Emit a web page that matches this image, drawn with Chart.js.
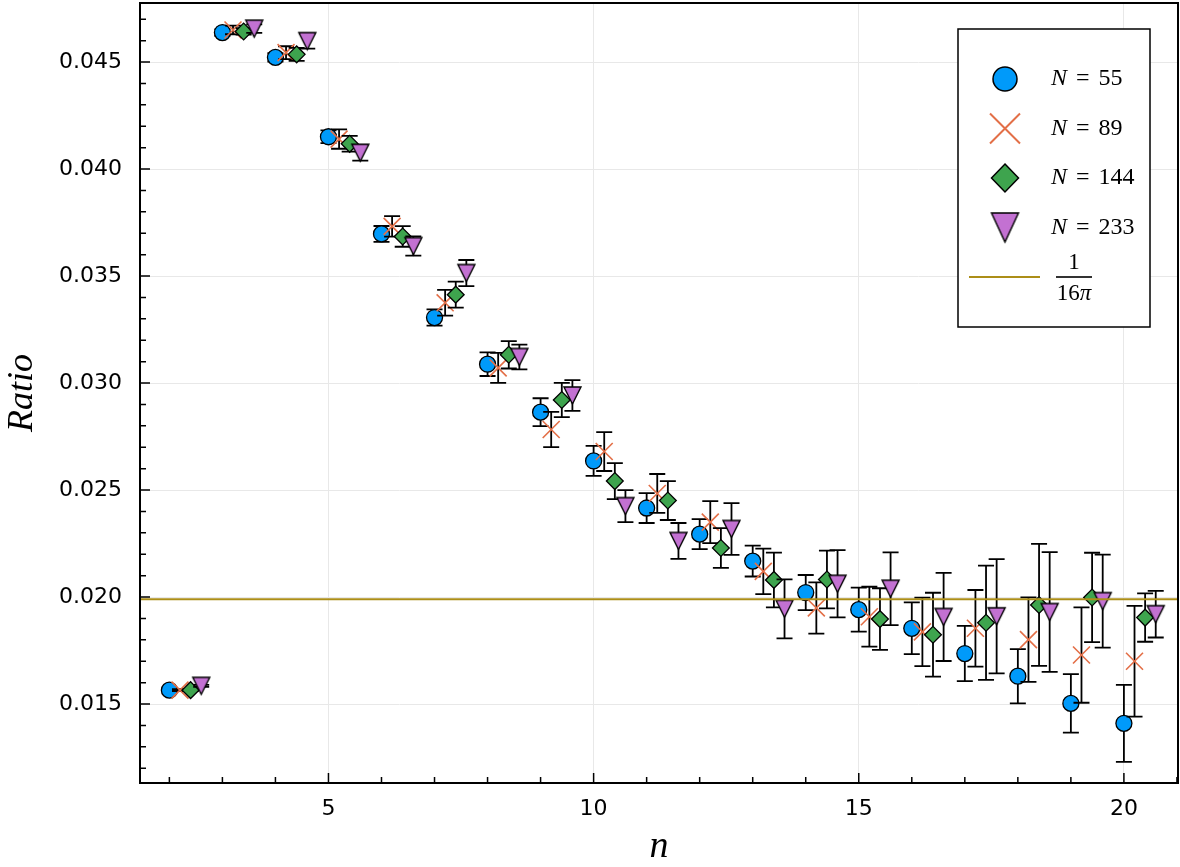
<!DOCTYPE html>
<html>
<head>
<meta charset="utf-8">
<script src="https://cdn.jsdelivr.net/npm/chart.js@4.4.0/dist/chart.umd.min.js"></script>
<style>
  html, body { margin: 0; padding: 0; background: #fff; overflow: hidden; }
  #ratioChart { display: block; }
</style>
</head>
<body>
<canvas id="ratioChart" width="1180" height="867"></canvas>
<script>
// n on the horizontal axis, one group of four points per n
const nValues = [2, 3, 4, 5, 6, 7, 8, 9, 10, 11, 12, 13, 14, 15, 16, 17, 18, 19, 20];
const sizeLabels = ['55', '89', '144', '233'];
const xShift = [0, 0.2, 0.4, 0.6];

// ratio and its error for each N
const ratio55 = [0.01565, 0.04638, 0.04522, 0.04151, 0.03697, 0.03306, 0.03088, 0.02864, 0.02636, 0.02416,
                 0.02294, 0.02168, 0.02021, 0.01941, 0.01854, 0.01736, 0.01630, 0.01503, 0.01410];
const err55 = [0.00004, 0.00015, 0.00020, 0.00030, 0.00037, 0.00038, 0.00055, 0.00065, 0.00070, 0.00070,
               0.00070, 0.00072, 0.00082, 0.00103, 0.00121, 0.00129, 0.00127, 0.00137, 0.00180];

const ratio89 = [0.01565, 0.04650, 0.04544, 0.04140, 0.03732, 0.03375, 0.03071, 0.02783, 0.02680, 0.02484,
                 0.02350, 0.02120, 0.01949, 0.01908, 0.01837, 0.01854, 0.01801, 0.01729, 0.01700];
const err89 = [0.00004, 0.00020, 0.00030, 0.00045, 0.00048, 0.00060, 0.00070, 0.00082, 0.00091, 0.00091,
               0.00098, 0.00106, 0.00120, 0.00140, 0.00160, 0.00179, 0.00197, 0.00223, 0.00259];

const ratio144 = [0.01565, 0.04643, 0.04536, 0.04118, 0.03685, 0.03413, 0.03132, 0.02921, 0.02542, 0.02451,
                  0.02229, 0.02080, 0.02082, 0.01897, 0.01824, 0.01880, 0.01963, 0.01998, 0.01904];
const err144 = [0.00004, 0.00015, 0.00030, 0.00037, 0.00048, 0.00061, 0.00064, 0.00080, 0.00084, 0.00091,
                0.00093, 0.00128, 0.00135, 0.00144, 0.00196, 0.00267, 0.00285, 0.00209, 0.00113];

const ratio233 = [0.01585, 0.04656, 0.04598, 0.04076, 0.03640, 0.03514, 0.03122, 0.02942, 0.02425, 0.02262,
                  0.02318, 0.01945, 0.02062, 0.02039, 0.01907, 0.01910, 0.01930, 0.01981, 0.01920];
const err233 = [0.00005, 0.00020, 0.00035, 0.00037, 0.00045, 0.00061, 0.00058, 0.00072, 0.00075, 0.00084,
                0.00121, 0.00138, 0.00157, 0.00170, 0.00206, 0.00267, 0.00280, 0.00217, 0.00109];

const xTicks = [5, 10, 15, 20];
const yTicks = [0.015, 0.020, 0.025, 0.030, 0.035, 0.040, 0.045];
const xRange = [1.446, 21.02];
const yRange = [0.01131, 0.04776];
const inverse16Pi = 1 / (16 * Math.PI);

const colors = ['#009AFA', '#E36F47', '#3EA44E', '#C371D2'];
const lineColor = '#AC8E18';

// downward triangle marker, drawn once into a small canvas
function downTriangle(w, h, fill) {
    const pad = 2;
    const c = document.createElement('canvas');
    c.width = w + 2 * pad;
    c.height = h + 2 * pad;
    const g = c.getContext('2d');
    g.beginPath();
    g.moveTo(pad, pad);
    g.lineTo(pad + w, pad);
    g.lineTo(pad + w / 2, pad + h);
    g.closePath();
    g.fillStyle = fill;
    g.fill();
    g.lineWidth = 1.4;
    g.strokeStyle = '#000';
    g.stroke();
    return c;
}
const triSmall = downTriangle(17, 17, colors[3]);
const triLarge = downTriangle(27, 29, colors[3]);

function points(values, shift) {
    return values.map((v, i) => ({ x: nValues[i] + shift, y: v }));
}

// scales get no extra padding: the frame sits at fixed offsets
function noPadding(s) {
    s.paddingLeft = 0; s.paddingRight = 0;
    s.paddingTop = 0; s.paddingBottom = 0;
}

// error bars for each series, drawn just before that series' markers
const errorBarPlugin = {
    id: 'errorBars',
    beforeDatasetDraw(chart, args) {
        const ds = chart.data.datasets[args.index];
        if (!ds.errors) return;
        const { ctx, scales: { x, y } } = chart;
        ctx.save();
        ctx.strokeStyle = '#000';
        ctx.lineWidth = 1.8;
        ds.data.forEach((p, i) => {
            const px = x.getPixelForValue(p.x);
            const top = y.getPixelForValue(p.y + ds.errors[i]);
            const bot = y.getPixelForValue(p.y - ds.errors[i]);
            ctx.beginPath();
            ctx.moveTo(px, top); ctx.lineTo(px, bot);
            ctx.moveTo(px - 8, top); ctx.lineTo(px + 8, top);
            ctx.moveTo(px - 8, bot); ctx.lineTo(px + 8, bot);
            ctx.stroke();
        });
        ctx.restore();
    }
};

// box frame with inward major/minor ticks on the left and bottom
const framePlugin = {
    id: 'frame',
    afterDatasetsDraw(chart) {
        const { ctx, chartArea: a, scales: { x, y } } = chart;
        ctx.save();
        ctx.strokeStyle = '#000';
        ctx.lineWidth = 1.5;
        ctx.beginPath();
        for (let v = Math.ceil(x.min); v <= x.max; v++) {
            const px = x.getPixelForValue(v);
            const len = xTicks.includes(v) ? 10 : 6;
            ctx.moveTo(px, a.bottom); ctx.lineTo(px, a.bottom - len);
        }
        for (let k = Math.ceil(y.min * 1000); k <= Math.floor(y.max * 1000); k++) {
            const py = y.getPixelForValue(k / 1000);
            const len = k % 5 === 0 ? 10 : 6;
            ctx.moveTo(a.left, py); ctx.lineTo(a.left + len, py);
        }
        ctx.stroke();
        ctx.lineWidth = 2;
        ctx.strokeRect(a.left, a.top, a.width, a.height);
        ctx.restore();
    }
};

// legend box with math-style labels
const legendPlugin = {
    id: 'mathLegend',
    afterDraw(chart) {
        const { ctx, chartArea: a } = chart;
        const w = 192, h = 298;
        const left = a.right - 28 - w;
        const top = a.top + 26;
        ctx.save();
        ctx.fillStyle = '#fff';
        ctx.fillRect(left, top, w, h);
        ctx.strokeStyle = '#000';
        ctx.lineWidth = 1.5;
        ctx.strokeRect(left, top, w, h);

        const mx = left + 47;
        const tx = left + 93;
        ctx.textBaseline = 'middle';
        sizeLabels.forEach((lab, i) => {
            const my = top + 50 + i * 49.5;
            ctx.save();
            ctx.lineWidth = 1.5;
            ctx.strokeStyle = '#000';
            if (i === 0) {
                ctx.beginPath();
                ctx.arc(mx, my, 12, 0, Math.PI * 2);
                ctx.fillStyle = colors[0];
                ctx.fill(); ctx.stroke();
            } else if (i === 1) {
                ctx.strokeStyle = colors[1];
                ctx.lineWidth = 2;
                ctx.beginPath();
                ctx.moveTo(mx - 15, my - 15); ctx.lineTo(mx + 15, my + 15);
                ctx.moveTo(mx - 15, my + 15); ctx.lineTo(mx + 15, my - 15);
                ctx.stroke();
            } else if (i === 2) {
                ctx.beginPath();
                ctx.moveTo(mx, my - 14); ctx.lineTo(mx + 13.5, my);
                ctx.lineTo(mx, my + 14); ctx.lineTo(mx - 13.5, my);
                ctx.closePath();
                ctx.fillStyle = colors[2];
                ctx.fill(); ctx.stroke();
            } else {
                ctx.drawImage(triLarge, mx - triLarge.width / 2, my - triLarge.height / 2);
            }
            ctx.restore();

            ctx.fillStyle = '#000';
            ctx.font = 'italic 24px "Liberation Serif"';
            ctx.fillText('N', tx, my);
            let cx = tx + ctx.measureText('N').width + 9;
            ctx.font = '24px "Liberation Serif"';
            ctx.fillText('=', cx, my);
            cx += ctx.measureText('=').width + 9;
            ctx.fillText(lab, cx, my);
        });

        // reference line entry with the 1/(16π) fraction
        const ly = top + 248;
        ctx.strokeStyle = lineColor;
        ctx.lineWidth = 2;
        ctx.beginPath();
        ctx.moveTo(left + 11, ly); ctx.lineTo(left + 82, ly);
        ctx.stroke();

        const fx = left + 116;
        ctx.fillStyle = '#000';
        ctx.textAlign = 'center';
        ctx.font = '23px "Liberation Serif"';
        ctx.fillText('1', fx, ly - 14);
        ctx.fillRect(fx - 18, ly - 0.8, 36, 1.6);
        ctx.textAlign = 'left';
        const w16 = ctx.measureText('16').width;
        ctx.font = 'italic 23px "Liberation Serif"';
        const wPi = ctx.measureText('π').width;
        const sx = fx - (w16 + wPi) / 2;
        ctx.font = '23px "Liberation Serif"';
        ctx.fillText('16', sx, ly + 17);
        ctx.font = 'italic 23px "Liberation Serif"';
        ctx.fillText('π', sx + w16, ly + 17);
        ctx.restore();
    }
};

const ratioSets = [ratio55, ratio89, ratio144, ratio233];
const errorSets = [err55, err89, err144, err233];
const markerStyles = [
    { pointStyle: 'circle', pointRadius: 8, pointBackgroundColor: colors[0], pointBorderColor: '#000', pointBorderWidth: 1.3 },
    { pointStyle: 'crossRot', pointRadius: 12, pointBackgroundColor: colors[1], pointBorderColor: colors[1], pointBorderWidth: 1.6 },
    { pointStyle: 'rectRot', pointRadius: 8.4, pointBackgroundColor: colors[2], pointBorderColor: '#000', pointBorderWidth: 1.3 },
    { pointStyle: triSmall, pointRadius: 9 }
];

const datasets = ratioSets.map((vals, i) => Object.assign({
    type: 'scatter',
    label: 'N = ' + sizeLabels[i],
    data: points(vals, xShift[i]),
    errors: errorSets[i],
    order: 4 - i,
    showLine: false
}, markerStyles[i]));

datasets.push({
    type: 'line',
    label: '1/(16π)',
    data: [{ x: xRange[0], y: inverse16Pi }, { x: xRange[1], y: inverse16Pi }],
    borderColor: lineColor,
    borderWidth: 2,
    pointRadius: 0,
    order: 0
});

const ctx = document.getElementById('ratioChart').getContext('2d');
const chart = new Chart(ctx, {
    data: { datasets: datasets },
    options: {
        responsive: false,
        animation: false,
        devicePixelRatio: 1,
        layout: { autoPadding: false, padding: { top: 3, right: 2, left: 0, bottom: 0 } },
        plugins: {
            legend: { display: false },
            tooltip: { enabled: false }
        },
        scales: {
            x: {
                type: 'linear',
                min: xRange[0],
                max: xRange[1],
                afterBuildTicks: s => { s.ticks = xTicks.map(v => ({ value: v })); },
                afterFit: s => { s.height = 84; noPadding(s); },
                grid: { color: '#e8e8e8', lineWidth: 1, drawTicks: false },
                border: { display: false },
                ticks: {
                    color: '#000',
                    padding: 13,
                    maxRotation: 0,
                    font: { family: 'DejaVu Sans', size: 22 },
                    callback: v => String(v)
                },
                title: {
                    display: true,
                    text: 'n',
                    color: '#000',
                    font: { family: 'Liberation Serif', style: 'italic', size: 38, lineHeight: 1 },
                    padding: { top: 0, bottom: 1 }
                }
            },
            y: {
                type: 'linear',
                min: yRange[0],
                max: yRange[1],
                afterBuildTicks: s => { s.ticks = yTicks.map(v => ({ value: v })); },
                afterFit: s => { s.width = 140; noPadding(s); },
                grid: { color: '#e8e8e8', lineWidth: 1, drawTicks: false },
                border: { display: false },
                ticks: {
                    color: '#000',
                    padding: 18,
                    font: { family: 'DejaVu Sans', size: 22 },
                    callback: v => v.toFixed(3)
                },
                title: {
                    display: true,
                    text: 'Ratio',
                    color: '#000',
                    font: { family: 'Liberation Serif', style: 'italic', size: 36, lineHeight: 1 },
                    padding: { top: 5, bottom: 0 }
                }
            }
        }
    },
    plugins: [errorBarPlugin, framePlugin, legendPlugin]
});
</script>
</body>
</html>
